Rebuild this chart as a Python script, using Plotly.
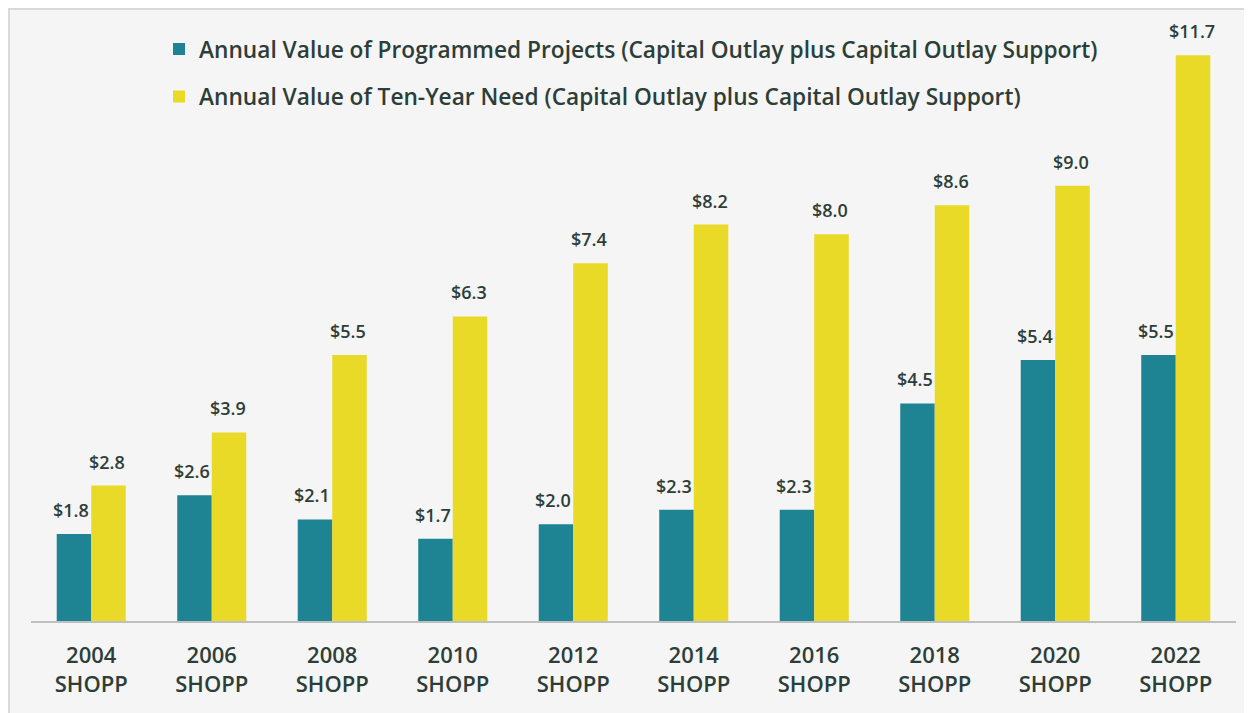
import plotly.graph_objects as go

CATEGORIES = ["2004<br>SHOPP", "2006<br>SHOPP", "2008<br>SHOPP", "2010<br>SHOPP", "2012<br>SHOPP",
              "2014<br>SHOPP", "2016<br>SHOPP", "2018<br>SHOPP", "2020<br>SHOPP", "2022<br>SHOPP"]
PROGRAMMED = [1.8, 2.6, 2.1, 1.7, 2.0, 2.3, 2.3, 4.5, 5.4, 5.5]
TEN_YEAR_NEED = [2.8, 3.9, 5.5, 6.3, 7.4, 8.2, 8.0, 8.6, 9.0, 11.7]

NAME_PROGRAMMED = "Annual Value of Programmed Projects (Capital Outlay plus Capital Outlay Support)"
NAME_NEED = "Annual Value of Ten-Year Need (Capital Outlay plus Capital Outlay Support)"

TEAL = "#1e8494"
YELLOW = "#e8da27"
TEXT_COLOR = "#2d3e39"
FONT = "Open Sans"

# figure geometry (the page adds an 8px body margin)
WIDTH, HEIGHT = 1244, 705
M_L, M_R, M_T, M_B = 23, 16, 5, 92
PLOT_W = WIDTH - M_L - M_R
PLOT_H = HEIGHT - M_T - M_B


def value_labels(values, shift):
    return [dict(
        x=cat, y=v, xref="x", yref="y",
        text=f"${v:.1f}", showarrow=False,
        xshift=shift, yshift=24, yanchor="middle",
        font=dict(family=FONT, size=18, color=TEXT_COLOR, weight=600),
    ) for cat, v in zip(CATEGORIES, values)]


def create_figure():
    fig = go.Figure()

    fig.add_trace(go.Bar(
        x=CATEGORIES,
        y=PROGRAMMED,
        name=NAME_PROGRAMMED,
        marker=dict(color=TEAL, line=dict(width=0)),
        legend="legend",
        hoverinfo="y",
    ))

    fig.add_trace(go.Bar(
        x=CATEGORIES,
        y=TEN_YEAR_NEED,
        name=NAME_NEED,
        marker=dict(color=YELLOW, line=dict(width=0)),
        legend="legend2",
        hoverinfo="y",
    ))

    legend_style = dict(
        xanchor="left",
        yanchor="middle",
        x=(151 - M_L) / PLOT_W,
        bgcolor="rgba(0,0,0,0)",
        font=dict(family=FONT, size=22.7, color=TEXT_COLOR, weight=600),
        itemwidth=30,
    )

    bottom = HEIGHT - M_B
    fig.update_layout(
        width=WIDTH,
        height=HEIGHT,
        margin=dict(l=M_L, r=M_R, t=M_T, b=M_B),
        paper_bgcolor="#f5f5f5",
        plot_bgcolor="rgba(0,0,0,0)",
        barmode="group",
        bargap=0.427,
        bargroupgap=0,
        font=dict(family=FONT, color=TEXT_COLOR),
        showlegend=True,
        legend=dict(y=(bottom - 41.3) / PLOT_H, **legend_style),
        legend2=dict(y=(bottom - 88.7) / PLOT_H, **legend_style),
        annotations=value_labels(PROGRAMMED, -20) + value_labels(TEN_YEAR_NEED, 16),
        shapes=[dict(
            type="rect", xref="paper", yref="paper", layer="below",
            x0=(1 - M_L) / PLOT_W, x1=(WIDTH + 10 - M_L) / PLOT_W,
            y0=(bottom - HEIGHT - 10) / PLOT_H, y1=(bottom - 1) / PLOT_H,
            fillcolor="rgba(0,0,0,0)", line=dict(color="#d9d9d9", width=2),
        )],
    )

    fig.update_xaxes(
        showline=True, linecolor="#bfbfbf", linewidth=1.5,
        ticks="", showgrid=False,
        tickfont=dict(family=FONT, size=22, color=TEXT_COLOR, weight=600),
        ticklabelstandoff=14,
    )
    fig.update_yaxes(
        range=[0, PLOT_H / 48.35], visible=False, showgrid=False, zeroline=False,
    )
    return fig


fig = create_figure()
fig.write_html("out.html")
